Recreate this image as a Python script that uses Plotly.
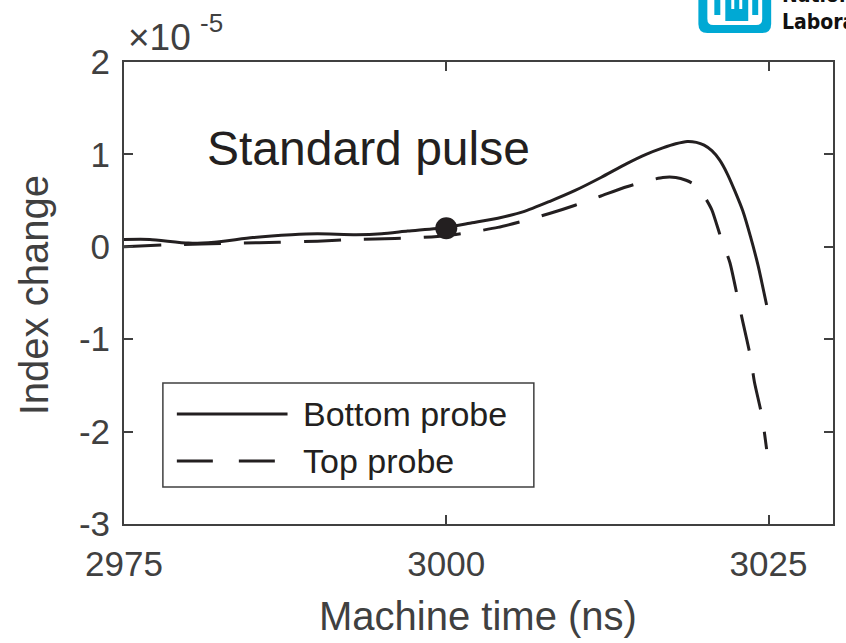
import plotly.graph_objects as go

# ---- data (index change in units of 1e-5) ----
t_bottom = [2975, 2977, 2980, 2982, 2985, 2988, 2990, 2993, 2995, 2997, 3000,
            3002, 3004, 3006, 3008, 3010, 3012, 3014, 3015.5, 3016.8, 3017.8,
            3018.7, 3019.4, 3020.0, 3020.6, 3021.2, 3021.8, 3022.4, 3023.0,
            3023.6, 3024.2, 3024.85]
v_bottom = [0.08, 0.08, 0.04, 0.05, 0.10, 0.13, 0.14, 0.13, 0.14, 0.17, 0.21,
            0.26, 0.31, 0.38, 0.49, 0.61, 0.75, 0.90, 1.00, 1.07, 1.115,
            1.14, 1.13, 1.10, 1.04, 0.94, 0.79, 0.60, 0.39,
            0.11, -0.21, -0.63]

t_top = [2975, 2978, 2981, 2984, 2987, 2990, 2993, 2996, 2998, 3000,
         3002, 3004, 3006, 3008, 3010, 3012, 3014, 3015.5, 3016.8, 3017.8,
         3018.6, 3019.3, 3020.0, 3020.6, 3021.3, 3022.0, 3022.6, 3023.0,
         3023.6, 3023.9, 3024.5, 3024.85]
v_top = [0.00, 0.02, 0.03, 0.04, 0.05, 0.06, 0.08, 0.09, 0.10, 0.12,
         0.16, 0.21, 0.28, 0.36, 0.45, 0.55, 0.65, 0.71, 0.75, 0.75,
         0.72, 0.67, 0.55, 0.40, 0.10, -0.17, -0.55, -0.81,
         -1.19, -1.46, -1.84, -2.19]

marker_t = [3000]
marker_v = [0.20]

x_ticks = [2975, 3000, 3025]
x_ticktext = ["2975", "3000", "3025"]
y_ticks = [-3, -2, -1, 0, 1, 2]
y_ticktext = ["-3", "-2", "-1", "0", "1", "2"]

series_names = ["Bottom probe", "Top probe"]

# ---- layout geometry ----
W, H = 846, 643
L, R, T, B = 124, 835, 62, 524
PW, PH = R - L, B - T


def px(x):
    return (x - L) / PW


def py(y):
    return (B - y) / PH


INK = "#231F20"
AX = "#404040"
FONT = "Liberation Sans, Arial, Helvetica, sans-serif"
BLUE = "#00A9D4"

fig = go.Figure()
fig.add_trace(go.Scatter(x=t_bottom, y=v_bottom, mode="lines", name=series_names[0],
                         line=dict(color=INK, width=3, shape="spline", smoothing=0.6),
                         showlegend=False))
fig.add_trace(go.Scatter(x=t_top, y=v_top, mode="lines", name=series_names[1],
                         line=dict(color=INK, width=3, dash="37px,23px", shape="spline",
                                   smoothing=0.6),
                         showlegend=False))
fig.add_trace(go.Scatter(x=marker_t, y=marker_v, mode="markers",
                         marker=dict(color=INK, size=22), showlegend=False))

axis_common = dict(showline=True, linecolor=AX, linewidth=2, mirror="ticks",
                   ticks="inside", ticklen=9, tickwidth=1.5, tickcolor=AX,
                   showgrid=False, zeroline=False,
                   tickfont=dict(family=FONT, size=35, color=AX))

fig.update_xaxes(range=[2975, 3030], tickvals=x_ticks, ticktext=x_ticktext,
                 ticklabelstandoff=8, **axis_common)
fig.update_yaxes(range=[-3, 2], tickvals=y_ticks, ticktext=y_ticktext,
                 ticklabelstandoff=5, **axis_common)

shapes = []
annotations = []

# legend box
shapes.append(dict(type="rect", xref="paper", yref="paper",
                   x0=px(163), x1=px(535), y0=py(487), y1=py(383),
                   line=dict(color=AX, width=1.5), fillcolor="white", layer="above"))
shapes.append(dict(type="line", xref="paper", yref="paper",
                   x0=px(177), x1=px(288), y0=py(414), y1=py(414),
                   line=dict(color=INK, width=3), layer="above"))
shapes.append(dict(type="line", xref="paper", yref="paper",
                   x0=px(177), x1=px(276), y0=py(461), y1=py(461),
                   line=dict(color=INK, width=3, dash="36px,26px"), layer="above"))
for name, yy in zip(series_names, [414, 461]):
    annotations.append(dict(text=name, xref="paper", yref="paper", x=px(302), y=py(yy),
                            xanchor="left", yanchor="middle", showarrow=False,
                            font=dict(family=FONT, size=34, color=INK)))

# panel label
annotations.append(dict(text="Standard pulse", xref="paper", yref="paper",
                        x=px(205), y=py(148), xanchor="left", yanchor="middle",
                        showarrow=False, font=dict(family=FONT, size=48, color=INK)))

# exponent label
annotations.append(dict(text="×10", xref="paper", yref="paper", x=px(126), y=py(38),
                        xanchor="left", yanchor="middle", showarrow=False,
                        font=dict(family=FONT, size=37, color=AX)))
annotations.append(dict(text="-5", xref="paper", yref="paper", x=px(198), y=py(23),
                        xanchor="left", yanchor="middle", showarrow=False,
                        font=dict(family=FONT, size=26, color=AX)))

# axis titles
annotations.append(dict(text="Machine time (ns)", xref="paper", yref="paper",
                        x=px(479), y=py(616), xanchor="center", yanchor="middle",
                        showarrow=False, font=dict(family=FONT, size=40, color=AX)))
annotations.append(dict(text="Index change", xref="paper", yref="paper",
                        x=px(34), y=py(295), xanchor="center", yanchor="middle",
                        textangle=-90, showarrow=False,
                        font=dict(family=FONT, size=40, color=AX)))


# logo (partially cropped in the corner)
def rect(x0, x1, y0, y1, color):
    shapes.append(dict(type="rect", xref="paper", yref="paper",
                       x0=px(x0), x1=px(x1), y0=py(y1), y1=py(y0),
                       line=dict(width=0), fillcolor=color, layer="above"))


def rrect(x0, x1, y0, y1, r, color):
    path = (f"M {px(x0)},{py(y0)} L {px(x0)},{py(y1 - r)} "
            f"Q {px(x0)},{py(y1)} {px(x0 + r)},{py(y1)} "
            f"L {px(x1 - r)},{py(y1)} Q {px(x1)},{py(y1)} {px(x1)},{py(y1 - r)} "
            f"L {px(x1)},{py(y0)} Z")
    shapes.append(dict(type="path", xref="paper", yref="paper", path=path,
                       line=dict(width=0), fillcolor=color, layer="above"))


rrect(700, 773, -20, 33, 9, BLUE)
rrect(709, 764, -20, 25, 6, "white")
rect(716, 722, -5, 15, BLUE)
rect(727, 750, -5, 21, BLUE)
rect(733, 736, -5, 9, "white")
rect(741, 744, -5, 9, "white")
rect(754, 760, -5, 15, BLUE)

LOGO_FONT = "Liberation Sans Narrow, DejaVu Sans Condensed, Arial Narrow, sans-serif"
annotations.append(dict(text="<b>National</b><br><b>Laboratories</b>", xref="paper",
                        yref="paper", x=px(782), y=py(36), xanchor="left",
                        yanchor="bottom", align="left", showarrow=False,
                        font=dict(family=LOGO_FONT, size=21, color="#111")))

fig.update_layout(width=W, height=H, margin=dict(l=L, r=W - R, t=T, b=H - B),
                  plot_bgcolor="white", paper_bgcolor="white",
                  shapes=shapes, annotations=annotations, showlegend=False)

fig.write_html("out.html")
